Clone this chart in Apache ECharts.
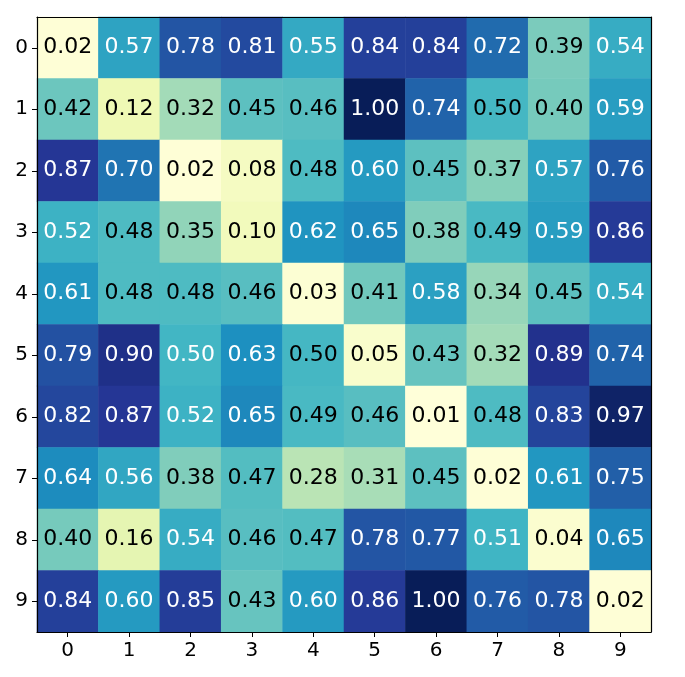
<!DOCTYPE html>
<html>
<head>
<meta charset="utf-8">
<script src="https://cdn.jsdelivr.net/npm/echarts@6/dist/echarts.min.js"></script>
<style>
  html, body { margin: 0; padding: 0; background: #fff; }
  #chart { width: 685px; height: 677px; }
</style>
</head>
<body>
<div id="chart"></div>
<script>
  var xLabels = ['0', '1', '2', '3', '4', '5', '6', '7', '8', '9'];
  var yLabels = ['0', '1', '2', '3', '4', '5', '6', '7', '8', '9'];
  // cell values, one row per y label (third decimal only decides the label colour)
  var rows = [
    [0.02, 0.57, 0.78, 0.81, 0.55, 0.84, 0.84, 0.72, 0.39, 0.54],
    [0.42, 0.12, 0.32, 0.45, 0.46, 1.00, 0.74, 0.497, 0.40, 0.59],
    [0.87, 0.70, 0.02, 0.08, 0.48, 0.60, 0.45, 0.37, 0.57, 0.76],
    [0.52, 0.48, 0.35, 0.10, 0.62, 0.65, 0.38, 0.49, 0.59, 0.86],
    [0.61, 0.48, 0.48, 0.46, 0.03, 0.41, 0.58, 0.34, 0.45, 0.54],
    [0.79, 0.90, 0.503, 0.63, 0.498, 0.05, 0.43, 0.32, 0.89, 0.74],
    [0.82, 0.87, 0.52, 0.65, 0.49, 0.46, 0.01, 0.48, 0.83, 0.97],
    [0.64, 0.56, 0.38, 0.47, 0.28, 0.31, 0.45, 0.02, 0.61, 0.75],
    [0.40, 0.16, 0.54, 0.46, 0.47, 0.78, 0.77, 0.51, 0.04, 0.65],
    [0.84, 0.60, 0.85, 0.43, 0.60, 0.86, 1.00, 0.76, 0.78, 0.02]
  ];
  var ylgnbu = ['#ffffd9', '#edf8b1', '#c7e9b4', '#7fcdbb', '#41b6c4',
                '#1d91c0', '#225ea8', '#253494', '#081d58'];

  var data = [];
  var vmin = 1, vmax = 0;
  for (var i = 0; i < rows.length; i++) {
    for (var j = 0; j < rows[i].length; j++) {
      var v = rows[i][j];
      if (v < vmin) vmin = v;
      if (v > vmax) vmax = v;
      data.push({
        value: [j, i, v],
        label: { color: v > 0.5 ? '#ffffff' : '#000000' }
      });
    }
  }

  // frame-only axes for the top and right edges
  var frame = {
    type: 'category',
    axisLine: { show: true, lineStyle: { color: '#000', width: 1.2 } },
    axisTick: { show: false },
    axisLabel: { show: false },
    splitLine: { show: false }
  };

  var chart = echarts.init(document.getElementById('chart'));
  chart.setOption({
    animation: false,
    textStyle: { fontFamily: 'DejaVu Sans' },
    grid: { left: 37, top: 17, width: 614, height: 615 },
    xAxis: [{
      type: 'category',
      data: xLabels,
      axisLine: { show: true, lineStyle: { color: '#000', width: 1.2 } },
      axisTick: { show: true, alignWithLabel: true, length: 5, lineStyle: { color: '#000' } },
      axisLabel: { color: '#000', fontSize: 20, margin: 9 },
      z: 10
    }, Object.assign({ position: 'top', data: xLabels, z: 10 }, frame)],
    yAxis: [{
      type: 'category',
      data: yLabels,
      inverse: true,
      axisLine: { show: true, lineStyle: { color: '#000', width: 1.2 } },
      axisTick: { show: true, alignWithLabel: true, length: 5, lineStyle: { color: '#000' } },
      axisLabel: { color: '#000', fontSize: 20, margin: 9 },
      z: 10
    }, Object.assign({ position: 'right', data: yLabels, inverse: true, z: 10 }, frame)],
    visualMap: {
      show: false,
      min: vmin,
      max: vmax,
      dimension: 2,
      inRange: { color: ylgnbu }
    },
    series: [{
      type: 'heatmap',
      data: data,
      label: {
        show: true,
        fontSize: 22,
        fontFamily: 'DejaVu Sans',
        formatter: function (p) { return p.value[2].toFixed(2); }
      },
      emphasis: { disabled: true }
    }]
  });
</script>
</body>
</html>
